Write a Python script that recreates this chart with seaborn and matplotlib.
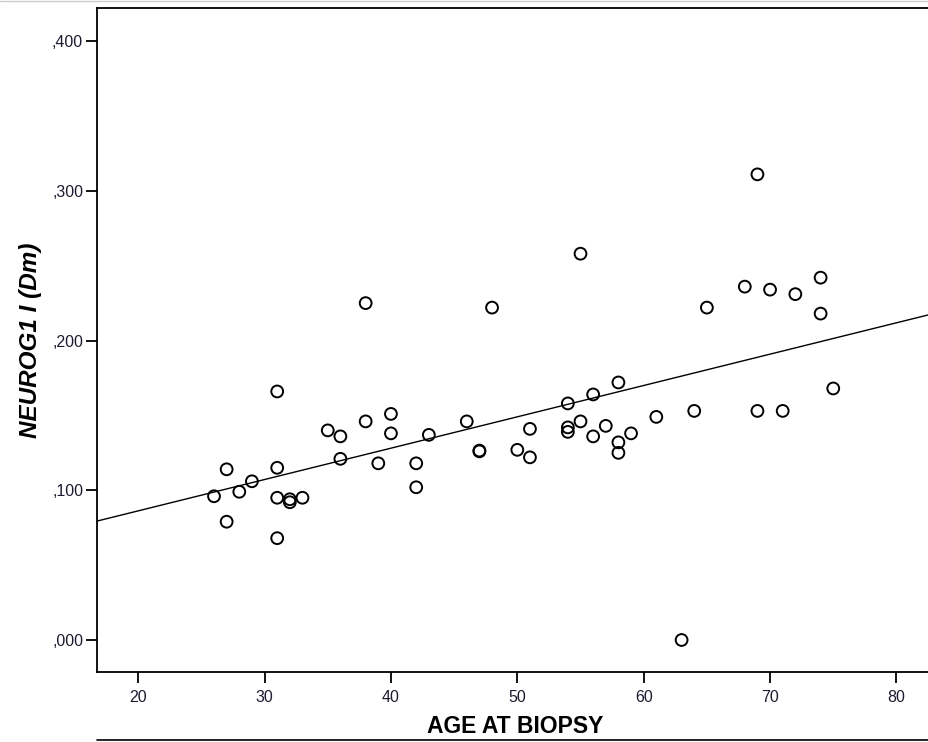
import numpy as np
import pandas as pd
import matplotlib
matplotlib.use("Agg")
import matplotlib.pyplot as plt
import matplotlib.lines as mlines
import seaborn as sns

ages = [26, 27, 27, 28, 29, 31, 31, 31, 31, 32, 32, 33, 35, 36, 36, 38, 38, 39,
        40, 40, 42, 42, 43, 46, 47, 47, 48, 50, 51, 51, 54, 54, 54, 55, 55, 56,
        56, 57, 58, 58, 58, 59, 61, 63, 64, 65, 68, 69, 69, 70, 71, 72, 74, 74, 75]
neurog = [0.096, 0.114, 0.079, 0.099, 0.106, 0.166, 0.115, 0.095, 0.068, 0.094,
          0.092, 0.095, 0.140, 0.136, 0.121, 0.225, 0.146, 0.118, 0.151, 0.138,
          0.118, 0.102, 0.137, 0.146, 0.126, 0.1265, 0.222, 0.127, 0.141, 0.122,
          0.158, 0.142, 0.139, 0.146, 0.258, 0.164, 0.136, 0.143, 0.172, 0.132,
          0.125, 0.138, 0.149, 0.000, 0.153, 0.222, 0.236, 0.311, 0.153, 0.234,
          0.153, 0.231, 0.242, 0.218, 0.168]

yticks = [0.0, 0.1, 0.2, 0.3, 0.4]
ytick_labels = [",000", ",100", ",200", ",300", ",400"]
xticks = [20, 30, 40, 50, 60, 70, 80]

df = pd.DataFrame({"age": ages, "neurog": neurog})

sns.set_style("white")
plt.rcParams["font.family"] = ["Liberation Sans", "DejaVu Sans"]
plt.rcParams["text.color"] = "black"
plt.rcParams["axes.labelcolor"] = "black"

fig = plt.figure(figsize=(9.29, 7.42), dpi=100)
ax = fig.add_axes([0.1044, 0.0943, 0.9, 0.8947])

ax.set_xlim(16.74, 82.9)
ax.set_ylim(-0.0214, 0.422)

sns.regplot(data=df, x="age", y="neurog", ax=ax, ci=None, truncate=False,
            scatter_kws=dict(s=72, facecolors="none", edgecolors="black", linewidths=1.4, alpha=1),
            line_kws=dict(color="black", lw=1.0))

ax.set_xticks(xticks)
ax.set_yticks(yticks)
ax.set_yticklabels(ytick_labels)
ax.tick_params(axis="both", direction="out", length=8, width=1.3, colors="black",
               labelsize=11.5, labelcolor="#1c1c30", left=True, bottom=True)
ax.tick_params(axis="x", pad=5)
ax.tick_params(axis="y", pad=2)

for side in ["left", "bottom", "top"]:
    ax.spines[side].set_visible(True)
    ax.spines[side].set_color("black")
    ax.spines[side].set_linewidth(1.3)
ax.spines["right"].set_visible(False)

ax.set_xlabel("AGE AT BIOPSY", fontsize=16.5, fontweight="bold", labelpad=7)
ax.set_ylabel("NEUROG1 I (Dm)", fontsize=17.5, fontweight="bold", style="italic", labelpad=7)

# decorative rule under the chart and thin grey border at the top
fig.add_artist(mlines.Line2D([0.1044, 1.0], [0.0027, 0.0027], color="black", lw=1.2))
fig.add_artist(mlines.Line2D([0.0, 1.0], [0.999, 0.999], color="#cccccc", lw=1.0))

fig.savefig("out.png", dpi=100)
